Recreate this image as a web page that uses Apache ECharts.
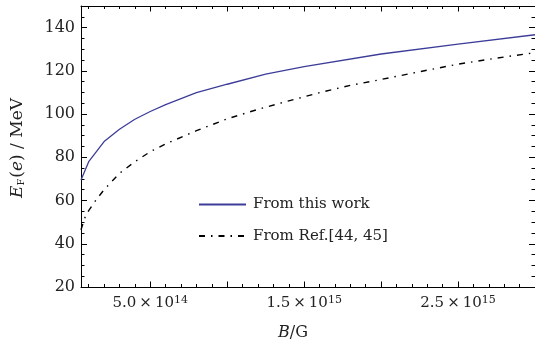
<!DOCTYPE html>
<html>
<head>
<meta charset="utf-8">
<script src="https://cdn.jsdelivr.net/npm/echarts@6/dist/echarts.min.js"></script>
<style>
  html, body { margin: 0; padding: 0; background: #fff; }
  #chart { width: 535px; height: 347px; }
</style>
</head>
<body>
<div id="chart"></div>
<script>
// B in G, E_F(e) in MeV
const blueB = [0.5e14, 1e14, 2e14, 3e14, 4e14, 5e14, 6e14, 8e14, 1e15, 1.25e15, 1.5e15, 2e15, 2.5e15, 3e15]
const blueE = [69.5, 78, 87.3, 93, 97.6, 101.2, 104.4, 109.9, 113.8, 118.5, 122, 127.8, 132.4, 136.7]

const refB = [0.5e14, 0.75e14, 1e14, 1.5e14, 2e14, 3e14, 4e14, 5e14, 6e14, 8e14, 1e15, 1.2e15, 1.4e15, 1.6e15, 1.8e15, 2e15, 2.25e15, 2.5e15, 2.75e15, 3e15]
const refE = [46.5, 52, 55.3, 60.5, 65, 72.6, 78, 82.6, 86.2, 92.3, 97.8, 102.2, 106.1, 109.9, 113.3, 116, 119.6, 123.1, 125.9, 128.4]

const seriesNames = ['From this work', 'From Ref.[44, 45]']

const xTickValues = [5e14, 1.5e15, 2.5e15]
const xTickLabels = ['5.0×10^14', '1.5×10^15', '2.5×10^15']
const xMajorTicks = [5e14, 1e15, 1.5e15, 2e15, 2.5e15, 3e15]
const yTickValues = [20, 40, 60, 80, 100, 120, 140]

const xMin = 5e13, xMax = 3e15
const yMin = 20, yMax = 150

const xMinorTicks = []
for (let i = 1; i <= 30; i++) xMinorTicks.push(i * 1e14)
const yMinorTicks = []
for (let v = 20; v <= 150; v += 5) yMinorTicks.push(v)

const font = 'DejaVu Serif'
const ink = '#222'

const chart = echarts.init(document.getElementById('chart'))

const tickLine = { color: '#000', width: 1 }

function xAxisOf (position, ticks, len, showLine, labels) {
  return {
    type: 'value', min: xMin, max: xMax, position: position,
    axisLine: { show: showLine, lineStyle: { color: '#000', width: 1 } },
    axisTick: { show: true, inside: true, length: len, customValues: ticks, lineStyle: tickLine },
    splitLine: { show: false },
    axisLabel: labels ? {
      customValues: xTickValues,
      margin: 8,
      color: ink,
      fontFamily: font,
      formatter: function (v) {
        const i = xTickValues.indexOf(v)
        if (i < 0) return ''
        const parts = xTickLabels[i].split('^')
        return '{m|' + parts[0].replace('×', '\u2009×\u2009') + '}{s|' + parts[1] + '}'
      },
      rich: {
        m: { fontFamily: font, fontSize: 15, color: ink, lineHeight: 16 },
        s: { fontFamily: font, fontSize: 11, color: ink, verticalAlign: 'top', lineHeight: 10, padding: [0, 0, 4, 0] }
      }
    } : { show: false }
  }
}

function yAxisOf (position, ticks, len, showLine, labels) {
  return {
    type: 'value', min: yMin, max: yMax, position: position,
    axisLine: { show: showLine, lineStyle: { color: '#000', width: 1 } },
    axisTick: { show: true, inside: true, length: len, customValues: ticks, lineStyle: tickLine },
    splitLine: { show: false },
    axisLabel: labels ? {
      customValues: yTickValues,
      margin: 6,
      color: ink,
      fontFamily: font,
      fontSize: 16
    } : { show: false }
  }
}

const option = {
  animation: false,
  backgroundColor: '#fff',
  grid: { left: 81, right: -1, top: 6, bottom: 60, containLabel: false },
  xAxis: [
    xAxisOf('bottom', xMajorTicks, 5.5, true, true),
    xAxisOf('bottom', xMinorTicks, 3, false, false),
    xAxisOf('top', xMajorTicks, 5.5, true, false),
    xAxisOf('top', xMinorTicks, 3, false, false)
  ],
  yAxis: [
    yAxisOf('left', yTickValues, 6, true, true),
    yAxisOf('left', yMinorTicks, 3.5, false, false),
    yAxisOf('right', yTickValues, 6, true, false),
    yAxisOf('right', yMinorTicks, 3.5, false, false)
  ],
  legend: {
    orient: 'vertical',
    left: 198,
    top: 197,
    padding: 0,
    itemWidth: 47,
    itemHeight: 16,
    itemGap: 16.5,
    itemStyle: { opacity: 0 },
    textStyle: { fontFamily: font, fontSize: 15, color: ink, padding: [0, 0, 0, 2] },
    data: seriesNames
  },
  graphic: [
    {
      type: 'text', x: 17.5, y: 148, rotation: Math.PI / 2,
      style: {
        text: '{i|E}{f|F}({i|e}) / MeV',
        align: 'center', verticalAlign: 'middle',
        fontFamily: font, fontSize: 17, fill: ink,
        rich: {
          i: { fontFamily: font, fontStyle: 'italic', fontSize: 17, fill: ink },
          f: { fontFamily: font, fontSize: 10, fill: ink, verticalAlign: 'bottom', padding: [3, 1, 0, 0] }
        }
      }
    },
    {
      type: 'text', x: 293, y: 333,
      style: {
        text: '{i|B}/G',
        align: 'center', verticalAlign: 'middle',
        fontFamily: font, fontSize: 16, fill: ink,
        rich: { i: { fontFamily: font, fontStyle: 'italic', fontSize: 16, fill: ink } }
      }
    }
  ],
  series: [
    {
      name: seriesNames[0],
      type: 'line',
      xAxisIndex: 0, yAxisIndex: 0,
      symbol: 'none',
      data: blueB.map((b, i) => [b, blueE[i]]),
      lineStyle: { color: '#3d3d99', width: 1.3 },
      itemStyle: { color: '#3d3d99' }
    },
    {
      name: seriesNames[1],
      type: 'line',
      xAxisIndex: 0, yAxisIndex: 0,
      symbol: 'none',
      data: refB.map((b, i) => [b, refE[i]]),
      lineStyle: { color: '#000', width: 1.4, type: [6, 6, 1.5, 6] },
      itemStyle: { color: '#000' }
    }
  ]
}

option && chart.setOption(option)
</script>
</body>
</html>
